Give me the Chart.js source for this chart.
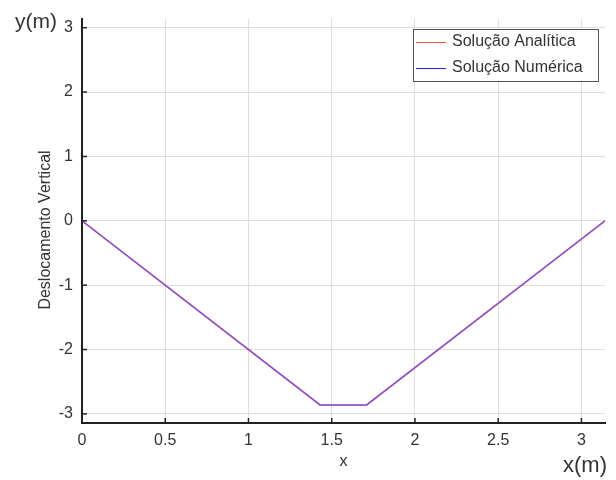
<!DOCTYPE html>
<html>
<head>
<meta charset="utf-8">
<script src="https://cdn.jsdelivr.net/npm/chart.js@4/dist/chart.umd.min.js"></script>
<style>
  html, body { margin: 0; padding: 0; background: #fff; }
  #wrap { width: 616px; height: 480px; }
</style>
</head>
<body>
<div id="wrap"><canvas id="myChart" width="616" height="480"></canvas></div>
<script>
/* Datos */
const xPoints = [0, 1.43, 1.71, Math.PI];
const analitica = [0, -2.86, -2.86, 0];
const numerica = [0, -2.86, -2.86, 0];
const xTicks = [0, 0.5, 1, 1.5, 2, 2.5, 3];
const yTicks = [-3, -2, -1, 0, 1, 2, 3];
const seriesNames = ["Solução Analítica", "Solução Numérica"];

const fontFam = "'Liberation Sans', Arial, sans-serif";
const textColor = "#333";

const toXY = (ys) => xPoints.map((x, i) => ({ x: x, y: ys[i] }));

/* Marcas de los ticks hacia adentro, textos extra y leyenda con borde */
const extras = {
  id: "extras",
  afterDraw(chart) {
    const c = chart.ctx;
    const xs = chart.scales.x;
    const ys = chart.scales.y;
    const area = chart.chartArea;
    c.save();
    c.strokeStyle = "#222";
    c.lineWidth = 1.5;
    xTicks.forEach((t) => {
      const px = xs.getPixelForValue(t);
      c.beginPath();
      c.moveTo(px, area.bottom);
      c.lineTo(px, area.bottom - 5);
      c.stroke();
    });
    yTicks.forEach((t) => {
      const py = ys.getPixelForValue(t);
      c.beginPath();
      c.moveTo(area.left, py);
      c.lineTo(area.left + 5, py);
      c.stroke();
    });

    c.fillStyle = textColor;
    c.font = "21px " + fontFam;
    c.textBaseline = "middle";
    c.textAlign = "left";
    c.fillText("y(m)", 15, 22);
    c.font = "22px " + fontFam;
    c.textAlign = "right";
    c.fillText("x(m)", 607, 466);

    // título del eje y
    c.save();
    c.translate(46, 230);
    c.rotate(-Math.PI / 2);
    c.textAlign = "center";
    c.font = "16px " + fontFam;
    c.fillText("Deslocamento Vertical", 0, 0);
    c.restore();

    // leyenda
    const bx = 413, by = 29, bw = 185, bh = 52;
    c.fillStyle = "#fff";
    c.fillRect(bx, by, bw, bh);
    c.strokeStyle = "#555";
    c.lineWidth = 1;
    c.strokeRect(bx + 0.5, by + 0.5, bw, bh);
    c.font = "16px " + fontFam;
    c.textAlign = "left";
    chart.data.datasets.forEach((ds, i) => {
      const yy = by + 13 + i * 26;
      c.strokeStyle = ds.legendColor;
      c.lineWidth = 1;
      c.beginPath();
      c.moveTo(bx + 3, yy + 0.5);
      c.lineTo(bx + 33, yy + 0.5);
      c.stroke();
      c.fillStyle = textColor;
      c.fillText(ds.label, bx + 39, yy);
    });
    c.restore();
  },
};

const config = {
  type: "line",
  data: {
    datasets: [
      {
        label: seriesNames[0],
        data: toXY(analitica),
        borderColor: "rgb(255, 90, 90)",
        legendColor: "rgb(255, 80, 80)",
        borderWidth: 1.5,
        pointRadius: 0,
        tension: 0,
        order: 2,
      },
      {
        label: seriesNames[1],
        data: toXY(numerica),
        borderColor: "rgba(80, 80, 255, 0.68)",
        legendColor: "rgb(30, 30, 255)",
        borderWidth: 1.5,
        pointRadius: 0,
        tension: 0,
        order: 1,
      },
    ],
  },
  options: {
    responsive: false,
    animation: false,
    layout: { padding: { top: 15, right: 11, left: 0, bottom: 0 } },
    plugins: {
      legend: { display: false },
      tooltip: { enabled: false },
    },
    scales: {
      x: {
        type: "linear",
        min: 0,
        max: Math.PI,
        afterBuildTicks: (s) => { s.ticks = xTicks.map((v) => ({ value: v })); },
        afterFit: (s) => { s.height = 57; },
        ticks: {
          color: textColor,
          font: { family: fontFam, size: 16 },
          padding: 8,
          maxRotation: 0,
          callback: (v) => String(v),
        },
        grid: { color: "#dedede", lineWidth: 1, drawTicks: false },
        border: { color: "#222", width: 2 },
        title: {
          display: true,
          text: "x",
          color: textColor,
          font: { family: fontFam, size: 16 },
          padding: { top: 0, bottom: 9 },
        },
      },
      y: {
        type: "linear",
        min: -Math.PI,
        max: Math.PI,
        afterBuildTicks: (s) => { s.ticks = yTicks.map((v) => ({ value: v })); },
        afterFit: (s) => { s.width = 82; },
        ticks: {
          color: textColor,
          font: { family: fontFam, size: 16 },
          padding: 9,
          callback: (v) => String(v),
        },
        grid: { color: "#dedede", lineWidth: 1, drawTicks: false },
        border: { color: "#222", width: 2 },
      },
    },
  },
  plugins: [extras],
};

const ctx = document.getElementById("myChart");
const myChart = new Chart(ctx, config);
</script>
</body>
</html>
